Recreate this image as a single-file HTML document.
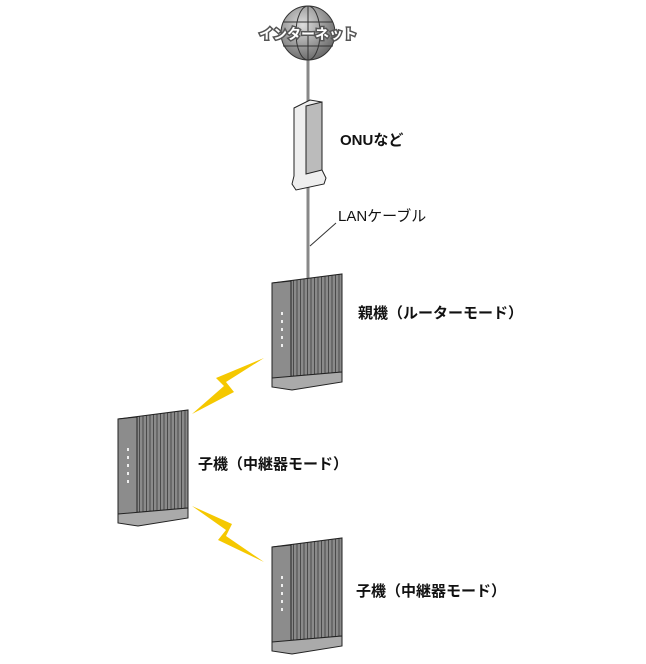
<!DOCTYPE html><html><head><meta charset="utf-8"><style>
body{margin:0;background:#fff;width:646px;height:659px;overflow:hidden}
text{font-family:"Liberation Sans","Noto Sans CJK JP",sans-serif;fill:#111}
</style></head><body>
<svg width="646" height="659" viewBox="0 0 646 659">
<defs>
<pattern id="st" width="3.5" height="10" patternUnits="userSpaceOnUse"><rect width="4" height="10" fill="#8a8a8a"/><rect width="1" height="10" fill="#4a4a4a"/></pattern>
<radialGradient id="gl" cx="0.4" cy="0.35" r="0.7"><stop offset="0" stop-color="#ddd"/><stop offset="1" stop-color="#666"/></radialGradient>
<g id="rt">
<polygon points="0,9 70,0 70,98 0,104" fill="url(#st)" stroke="#222" stroke-width="1"/>
<polygon points="0,9 19,7 19,104 0,104" fill="#8c8c8c" stroke="#222"/>
<polygon points="0,9 62,1 70,0 8,8" fill="#333"/>
<polygon points="0,104 70,98 70,108 20,116 0,113" fill="#aaa" stroke="#222"/>
<g fill="#eee"><rect x="9" y="38" width="2" height="3"/><rect x="9" y="46" width="2" height="3"/><rect x="9" y="54" width="2" height="3"/><rect x="9" y="62" width="2" height="3"/><rect x="9" y="70" width="2" height="3"/></g>
</g>
</defs>
<line x1="308" y1="50" x2="308" y2="278" stroke="#888" stroke-width="3"/>
<circle cx="308" cy="33" r="27" fill="url(#gl)" stroke="#333"/>
<ellipse cx="308" cy="33" rx="12" ry="27" fill="none" stroke="#333"/>
<line x1="308" y1="6" x2="308" y2="60" stroke="#333"/>
<line x1="283" y1="22" x2="333" y2="22" stroke="#333"/><line x1="283" y1="46" x2="333" y2="46" stroke="#333"/>
<text x="308" y="39" font-size="14" font-weight="bold" text-anchor="middle" style="fill:#fff;stroke:#555;stroke-width:3;paint-order:stroke">インターネット</text>
<polygon points="294,108 310,100 322,102 322,170 326,178 324,184 296,190 292,184 294,176" fill="#eee" stroke="#222"/>
<polygon points="306,106 322,102 322,170 306,174" fill="#bbb" stroke="#222"/>
<text x="340" y="145" font-size="15" font-weight="bold">ONUなど</text>
<text x="338" y="221" font-size="15">LANケーブル</text>
<line x1="336" y1="223" x2="310" y2="246" stroke="#333"/>
<use href="#rt" x="272" y="274"/>
<use href="#rt" x="118" y="410"/>
<use href="#rt" x="272" y="538"/>
<polygon points="264,358 226,382 234,392 192,414 224,386 216,378" fill="#f5c800"/>
<polygon points="192,506 232,524 226,536 264,562 218,540 226,530" fill="#f5c800"/>
<text x="358" y="318" font-size="15" font-weight="bold">親機（ルーターモード）</text>
<text x="198" y="469" font-size="15" font-weight="bold">子機（中継器モード）</text>
<text x="356" y="596" font-size="15" font-weight="bold">子機（中継器モード）</text>
</svg></body></html>
